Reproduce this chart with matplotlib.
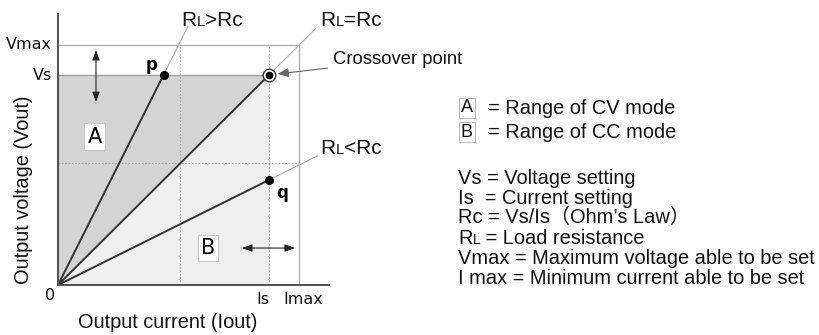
import matplotlib
matplotlib.use("Agg")
import matplotlib.pyplot as plt
from matplotlib.patches import Polygon
from matplotlib.offsetbox import TextArea, HPacker, AnnotationBbox

# operating limits (normalised: Vs = Is = 1)
Vs = 1.0
Is = 1.0
Vmax = 1.143
Imax = 1.142
mid_i = 0.578
mid_v = 0.58

# load lines: end point on the dark part, end of the thin leader
load_names = ["L>Rc", "L=Rc", "L<Rc"]
load_ends = [(0.5, 1.0), (1.0, 1.0), (1.0, 0.5)]
leader_ends = [(0.615, 1.23), (1.22, 1.22), (1.23, 0.615)]
label_pos = [(212, 20), (351, 20), (351, 148)]  # pixels

legend_rows = [
    ("Vs = Voltage setting", 178),
    ("Is  = Current setting", 198),
    ("Rc = Vs/Is（Ohm’s Law）", 218),
    ("RL = Load resistance", 238),
    ("Vmax = Maximum voltage able to be set", 258),
    ("I max = Minimum current able to be set", 278),
]

W, H = 819, 335
SANS = ["Liberation Sans", "Noto Sans CJK JP", "DejaVu Sans"]
TICKF = "DejaVu Sans"
DARK = "#333333"
GUIDE = "#b0b0b0"

fig = plt.figure(figsize=(W / 100, H / 100), dpi=100)
ax = fig.add_axes([58 / W, 50 / H, 271 / W, 271 / H])
ax.set_xlim(0, 271 / 211)
ax.set_ylim(0, 271 / 210)
for s in ["top", "right"]:
    ax.spines[s].set_visible(False)
for s in ["left", "bottom"]:
    ax.spines[s].set_color("#555555")
    ax.spines[s].set_linewidth(1.5)
    ax.spines[s].set_zorder(6)
ax.set_xticks([])
ax.set_yticks([])

# regions
ax.add_patch(Polygon([(0, 0), (0, Vs), (Is, Vs)], closed=True, fc="#d4d4d4", ec="none", zorder=1))
ax.add_patch(Polygon([(0, 0), (Is, 0), (Is, Vs)], closed=True, fc="#efefef", ec="none", zorder=1))

# guide lines
ax.plot([0, Imax], [Vmax, Vmax], color=GUIDE, lw=1, zorder=2)
ax.plot([Imax, Imax], [0, Vmax], color=GUIDE, lw=1, zorder=2)
ax.plot([0, Is], [Vs, Vs], color="#a0a0a0", lw=1, zorder=2)
dots = dict(color="#a8a8a8", lw=0.8, ls=(0, (1.5, 1.5)), zorder=2)
ax.plot([Is, Is], [0, Vmax], **dots)
ax.plot([mid_i, mid_i], [0, Vmax], **dots)
ax.plot([0, Imax], [mid_v, mid_v], **dots)

# load lines and leaders
for (x1, y1), (x2, y2) in zip(load_ends, leader_ends):
    ax.plot([0, x1], [0, y1], color=DARK, lw=1.4, zorder=4, solid_capstyle="round")
    ax.plot([x1, x2], [y1, y2], color="#aaaaaa", lw=0.8, zorder=3)

ax.plot([load_ends[0][0]], [load_ends[0][1]], "o", color="black", ms=5.5, zorder=5)
ax.plot([load_ends[2][0]], [load_ends[2][1]], "o", color="black", ms=5.5, zorder=5)
ax.plot([Is], [Vs], "o", mfc="white", mec=DARK, mew=1, ms=9, zorder=5)
ax.plot([Is], [Vs], "o", color="black", ms=4.5, zorder=6)


def packed(parts, xy, coords, align=(0.5, 0.5), color="#111111"):
    boxes = [TextArea(s, textprops=dict(size=sz, family=SANS, color=color)) for s, sz in parts]
    pack = HPacker(children=boxes, align="baseline", pad=0, sep=0)
    ab = AnnotationBbox(pack, xy, xycoords=coords, frameon=False, box_alignment=align,
                        annotation_clip=False, zorder=7)
    fig.add_artist(ab)


for name, (px, py) in zip(load_names, label_pos):
    packed([("R", 15), (name[0], 10.5), (name[1:], 15)], (px / W, 1 - py / H), "figure fraction")

# crossover annotation
ax.annotate("Crossover point", xy=(Is + 0.04, Vs + 0.005), xycoords="data",
            xytext=(333 / W, 1 - 60 / H), textcoords="figure fraction",
            ha="left", va="center", fontsize=13.3, family=SANS, color="#111111",
            arrowprops=dict(arrowstyle="-|>,head_length=0.5,head_width=0.2",
                            color="#666666", lw=0.8, shrinkA=2, shrinkB=0),
            annotation_clip=False, zorder=7)

# double arrows
arr = dict(arrowstyle="<|-|>,head_length=0.6,head_width=0.22", color="#222222", lw=0.8,
           shrinkA=0, shrinkB=0)
ax.annotate("", xy=(0.18, 1.119), xytext=(0.18, 0.871), arrowprops=arr, zorder=7)
ax.annotate("", xy=(0.872, 0.176), xytext=(1.123, 0.176), arrowprops=arr, zorder=7)

# region labels
box = dict(boxstyle="square,pad=0.15", fc="white", ec="#c8c8c8", lw=0.8)
ax.text(0.173, 0.707, "A", fontsize=15, family=TICKF, ha="center", va="center", bbox=box, zorder=7)
ax.text(0.711, 0.176, "B", fontsize=15, family=TICKF, ha="center", va="center", bbox=box, zorder=7)

# point labels
ax.text(0.445, 1.05, "p", fontsize=12, family=TICKF, fontweight="bold", ha="center", va="center")
ax.text(1.062, 0.438, "q", fontsize=12, family=TICKF, fontweight="bold", ha="center", va="center")

# axis tick labels
tk = dict(fontsize=11.5, family=TICKF, color="#111111", clip_on=False)
ax.text(-0.028, Vmax, "Vmax", ha="right", va="center", **tk)
ax.text(-0.028, Vs, "Vs", ha="right", va="center", **tk)
ax.text(-0.038, -0.048, "0", ha="center", va="center", **tk)
ax.text(0.972, -0.071, "Is", ha="center", va="center", **tk)
ax.text(1.161, -0.071, "Imax", ha="center", va="center", **tk)

fig.text(24 / W, 1 - 190 / H, "Output voltage (Vout)", rotation=90, ha="center", va="center",
         fontsize=14.4, family=SANS, color="#111111")
fig.text(168 / W, 1 - 323 / H, "Output current (Iout)", ha="center", va="center",
         fontsize=14.4, family=SANS, color="#111111")

# legend on the right
lbox = dict(boxstyle="square,pad=0.1", fc="white", ec="#b8b8b8", lw=0.8)
for letter, row_y, mode in [("A", 108, "CV"), ("B", 132, "CC")]:
    fig.text(467 / W, 1 - row_y / H, letter, fontsize=13, family=SANS, ha="center", va="center",
             bbox=lbox, color="#111111")
    fig.text(488 / W, 1 - row_y / H, "= Range of %s mode" % mode, fontsize=14.4, family=SANS,
             ha="left", va="center", color="#111111")

for txt, row_y in legend_rows:
    if txt.startswith("RL"):
        packed([("R", 14.4), ("L", 10), (txt[2:], 14.4)], (458 / W, 1 - row_y / H),
               "figure fraction", align=(0, 0.5))
    else:
        fig.text(458 / W, 1 - row_y / H, txt, fontsize=14.4, family=SANS,
                 ha="left", va="center", color="#111111")

fig.savefig("out.png", dpi=100)
